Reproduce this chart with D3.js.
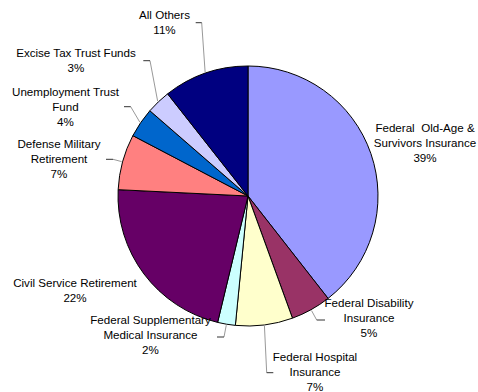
<!DOCTYPE html>
<html>
<head>
<meta charset="utf-8">
<script src="https://cdn.jsdelivr.net/npm/d3@7"></script>
<style>
  body { margin: 0; background: #fff; }
  text { font-family: "Liberation Sans", Arial, sans-serif; font-size: 11.6px; fill: #000; }
</style>
</head>
<body>
<script>
var categories = [
  ["Federal  Old-Age &", "Survivors Insurance"],
  ["Federal Disability", "Insurance"],
  ["Federal Hospital", "Insurance"],
  ["Federal Supplementary", "Medical Insurance"],
  ["Civil Service Retirement"],
  ["Defense Military", "Retirement"],
  ["Unemployment Trust", "Fund"],
  ["Excise Tax Trust Funds"],
  ["All Others"]
];
var values = [39.4, 5.0, 7.1, 2.2, 22.0, 6.9, 3.7, 3.0, 10.6];
var percentLabels = ["39%", "5%", "7%", "2%", "22%", "7%", "4%", "3%", "11%"];
var colors = ["#9999FF", "#993366", "#FFFFCC", "#CCFFFF", "#660066", "#FF8080", "#0066CC", "#CCCCFF", "#000080"];

// label layout: text centre x, first baseline y, leader dash [x1, x2, y] (null = no leader)
var labelLayout = [
  { x: 425, y: 132, dash: null },
  { x: 369, y: 307, dash: [325, 316.7, 320] },
  { x: 315, y: 361, dash: [273.3, 266.7, 372.7] },
  { x: 150.5, y: 324, dash: [217, 224, 337] },
  { x: 75, y: 287, dash: null },
  { x: 59, y: 148, dash: [106, 113, 159.3] },
  { x: 65.5, y: 96, dash: [124, 130.7, 106.7] },
  { x: 76, y: 57, dash: [143.3, 150, 60.7] },
  { x: 164.5, y: 19, dash: [195.7, 201.7, 22.7] }
];

var w = 478, h = 392;
var cx = 248, cy = 196, radius = 130;
var lineH = 15;

var svg = d3.select("body").append("svg")
    .attr("width", w)
    .attr("height", h);

var pie = d3.pie().sort(null).value(function(d) { return d; });
var arc = d3.arc().innerRadius(0).outerRadius(radius);
var arcs = pie(values);

var g = svg.append("g").attr("transform", "translate(" + cx + "," + cy + ")");

g.selectAll(".slice")
  .data(arcs)
  .enter().append("path")
    .attr("class", "slice")
    .attr("d", arc)
    .attr("fill", function(d, i) { return colors[i]; })
    .attr("stroke", "#000")
    .attr("stroke-width", 1)
    .attr("stroke-linejoin", "round");

// leader lines
arcs.forEach(function(d, i) {
  var lay = labelLayout[i];
  if (!lay.dash) return;
  var mid = (d.startAngle + d.endAngle) / 2;
  var sx = cx + (radius + 1) * Math.sin(mid);
  var sy = cy - (radius + 1) * Math.cos(mid);
  svg.append("line")
    .attr("x1", sx).attr("y1", sy)
    .attr("x2", lay.dash[1]).attr("y2", lay.dash[2])
    .attr("stroke", "#999").attr("stroke-width", 1);
  svg.append("line")
    .attr("x1", lay.dash[0]).attr("y1", lay.dash[2])
    .attr("x2", lay.dash[1]).attr("y2", lay.dash[2])
    .attr("stroke", "#333").attr("stroke-width", 1);
});

// labels
categories.forEach(function(lines, i) {
  var lay = labelLayout[i];
  var t = svg.append("text")
    .attr("text-anchor", "middle")
    .attr("x", lay.x)
    .attr("y", lay.y);
  lines.concat([percentLabels[i]]).forEach(function(s, k) {
    t.append("tspan")
      .attr("x", lay.x)
      .attr("dy", k === 0 ? 0 : lineH)
      .style("white-space", "pre")
      .text(s);
  });
});
</script>
</body>
</html>
